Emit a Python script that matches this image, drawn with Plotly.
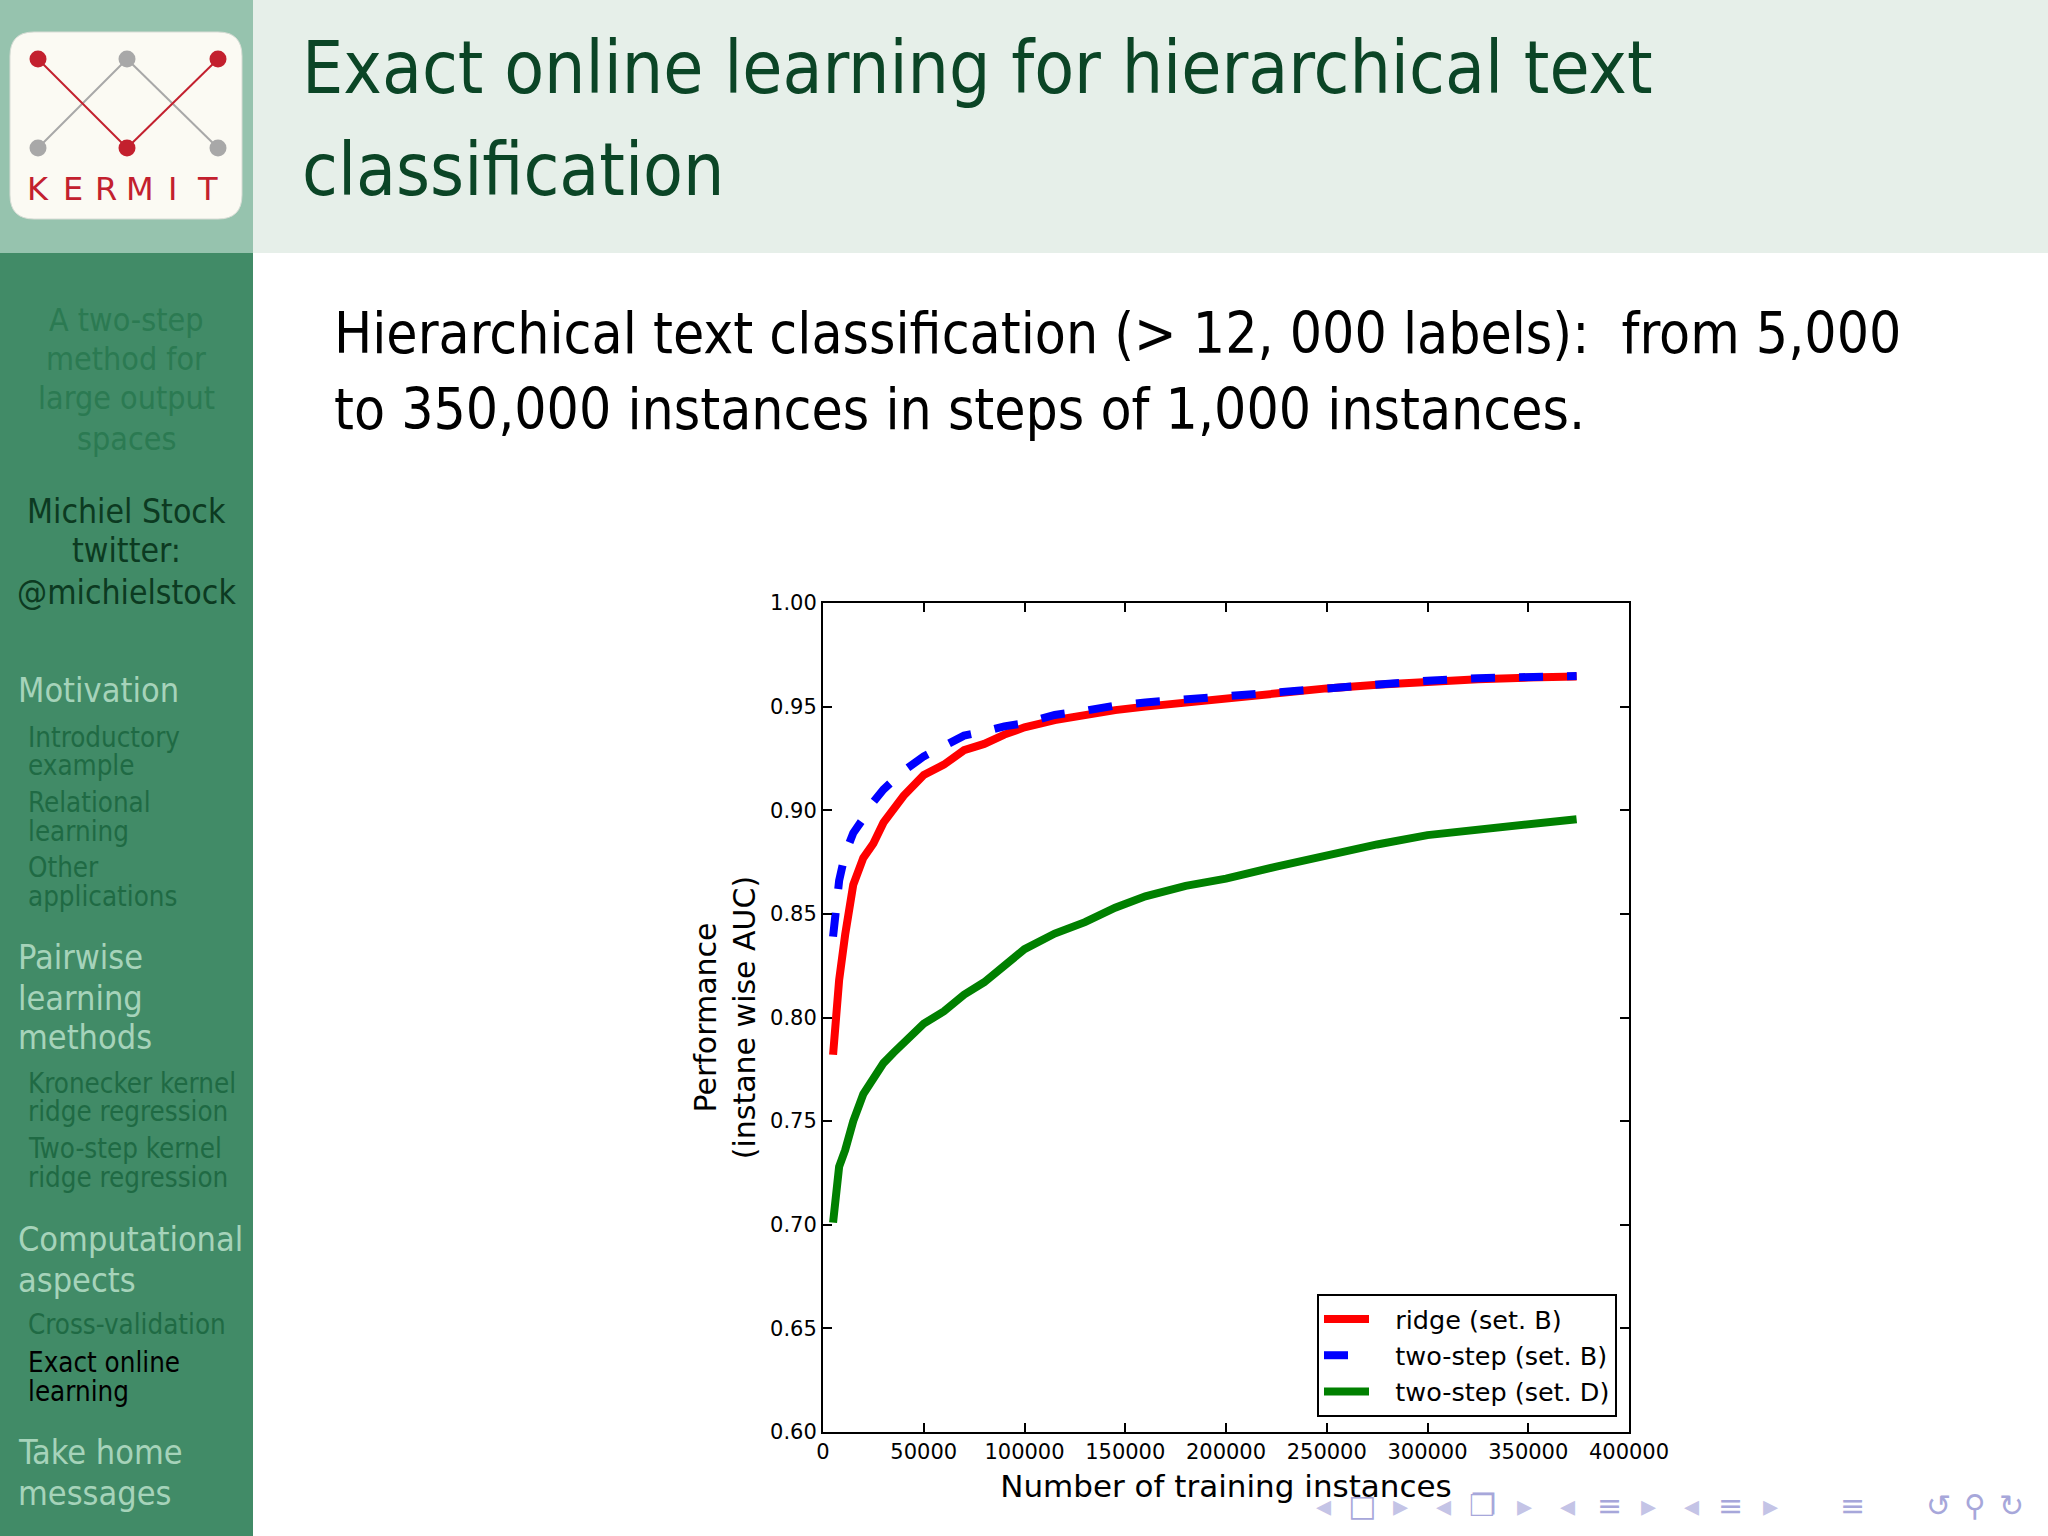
import plotly.graph_objects as go

W, H = 2048, 1536

# ---------------- data ----------------
instances = [5000, 8000, 11000, 15000, 20000, 25000, 30000, 35000, 40000, 50000,
             60000, 70000, 80000, 90000, 100000, 115000, 130000, 145000, 160000,
             180000, 200000, 225000, 250000, 275000, 300000, 325000, 350000, 374000]
ridge_B = [0.782, 0.818, 0.840, 0.864, 0.877, 0.884, 0.894, 0.901, 0.907, 0.917,
           0.922, 0.929, 0.932, 0.9365, 0.940, 0.9435, 0.946, 0.9483, 0.950,
           0.952, 0.9538, 0.9565, 0.9588, 0.9605, 0.962, 0.9632, 0.964, 0.9645]
twostep_B = [0.839, 0.866, 0.879, 0.889, 0.896, 0.904, 0.910, 0.915, 0.919, 0.926,
             0.931, 0.936, 0.938, 0.9405, 0.942, 0.946, 0.948, 0.9505, 0.952,
             0.9535, 0.955, 0.9575, 0.9596, 0.961, 0.9625, 0.9637, 0.9645, 0.9648]
twostep_D = [0.701, 0.728, 0.736, 0.750, 0.763, 0.770, 0.778, 0.783, 0.788, 0.797,
             0.803, 0.811, 0.817, 0.825, 0.833, 0.8405, 0.846, 0.853, 0.8585,
             0.8635, 0.867, 0.8728, 0.8783, 0.8835, 0.888, 0.8905, 0.8932, 0.8957]
series_names = ["ridge (set. B)", "two-step (set. B)", "two-step (set. D)"]
x_ticks = [0, 50000, 100000, 150000, 200000, 250000, 300000, 350000, 400000]
y_ticks = [0.60, 0.65, 0.70, 0.75, 0.80, 0.85, 0.90, 0.95, 1.00]

title_lines = ["Exact online learning for hierarchical text", "classification"]
body_lines = ["Hierarchical text classification (> 12, 000 labels):  from 5,000",
              "to 350,000 instances in steps of 1,000 instances."]

# ---------------- layout helpers ----------------
PL, PR, PT, PB = 823, 1629, 603, 1432   # plot area in pixels
NB = "\u00a0\u00a0\u2009"


def X(px):
    return px / W


def Y(py):
    return 1 - py / H


SLIDE_FONT = "DejaVu Sans Condensed, Lato, sans-serif"
CHART_FONT = "DejaVu Sans"

fig = go.Figure()

fig.add_trace(go.Scatter(x=instances, y=ridge_B, mode="lines", name=NB + series_names[0],
                         line=dict(color="#ff0000", width=8)))
fig.add_trace(go.Scatter(x=instances, y=twostep_B, mode="lines", name=NB + series_names[1],
                         line=dict(color="#0000ff", width=8, dash="24px,24px")))
fig.add_trace(go.Scatter(x=instances, y=twostep_D, mode="lines", name=NB + series_names[2],
                         line=dict(color="#008000", width=8)))

shapes = []
annotations = []

# backgrounds
shapes.append(dict(type="rect", xref="paper", yref="paper", x0=X(0), x1=X(253), y0=Y(253), y1=Y(0),
                   fillcolor="#96c3ae", line_width=0, layer="below"))
shapes.append(dict(type="rect", xref="paper", yref="paper", x0=X(0), x1=X(253), y0=Y(1536), y1=Y(253),
                   fillcolor="#418b67", line_width=0, layer="below"))
shapes.append(dict(type="rect", xref="paper", yref="paper", x0=X(253), x1=X(2048), y0=Y(253), y1=Y(0),
                   fillcolor="#e6efe9", line_width=0, layer="below"))

# logo rounded rectangle
lx0, lx1, ly0, ly1, r = 10, 242, 32, 219, 24


def P(px, py):
    return f"{X(px):.5f},{Y(py):.5f}"


path = (f"M {P(lx0 + r, ly0)} L {P(lx1 - r, ly0)} Q {P(lx1, ly0)} {P(lx1, ly0 + r)} "
        f"L {P(lx1, ly1 - r)} Q {P(lx1, ly1)} {P(lx1 - r, ly1)} "
        f"L {P(lx0 + r, ly1)} Q {P(lx0, ly1)} {P(lx0, ly1 - r)} "
        f"L {P(lx0, ly0 + r)} Q {P(lx0, ly0)} {P(lx0 + r, ly0)} Z")
shapes.append(dict(type="path", xref="paper", yref="paper", path=path,
                   fillcolor="#fbfaf3", line=dict(color="#d8ddd6", width=1), layer="below"))

RED, GRAY = "#c3202e", "#a8a8a8"
top_y, bot_y = 59, 148
xl, xm, xr = 38, 127, 218
for p0, p1 in [((xl, bot_y), (xm, top_y)), ((xm, top_y), (xr, bot_y))]:
    shapes.append(dict(type="line", xref="paper", yref="paper", x0=X(p0[0]), y0=Y(p0[1]),
                       x1=X(p1[0]), y1=Y(p1[1]), line=dict(color=GRAY, width=2)))
for p0, p1 in [((xl, top_y), (xm, bot_y)), ((xm, bot_y), (xr, top_y))]:
    shapes.append(dict(type="line", xref="paper", yref="paper", x0=X(p0[0]), y0=Y(p0[1]),
                       x1=X(p1[0]), y1=Y(p1[1]), line=dict(color=RED, width=2)))
for cx, cy, col in [(xl, top_y, RED), (xm, top_y, GRAY), (xr, top_y, RED),
                    (xl, bot_y, GRAY), (xm, bot_y, RED), (xr, bot_y, GRAY)]:
    rr = 8.5
    shapes.append(dict(type="circle", xref="paper", yref="paper", x0=X(cx - rr), x1=X(cx + rr),
                       y0=Y(cy + rr), y1=Y(cy - rr), fillcolor=col, line_width=0))
for ch, cx in zip("KERMIT", [38, 73, 106, 140, 172, 207]):
    annotations.append(dict(text=ch, x=X(cx), y=Y(189), xref="paper", yref="paper",
                            showarrow=False, xanchor="center", yanchor="middle",
                            font=dict(family="DejaVu Sans", size=32, color=RED)))


def txt(s, px, py, size, color, anchor="left", family=SLIDE_FONT):
    annotations.append(dict(text=s, x=X(px), y=Y(py), xref="paper", yref="paper",
                            showarrow=False, xanchor=anchor, yanchor="middle",
                            font=dict(family=family, size=size, color=color)))


# title
txt(title_lines[0], 300, 68, 72.6, "#0b4526")
txt(title_lines[1], 300, 170, 72.6, "#0b4526")
# body text
txt(body_lines[0], 332, 333, 56.5, "#000000")
txt(body_lines[1], 332, 410, 56.5, "#000000")

# sidebar
DIM = "#2b7a52"
for s, py in zip(["A two-step", "method for", "large output", "spaces"], [320, 359, 398, 439]):
    txt(s, 126, py, 32, DIM, anchor="center")
for s, py in zip(["Michiel Stock", "twitter:", "@michielstock"], [512, 551, 592]):
    txt(s, 126, py, 33.5, "#0c3a21", anchor="center")
LIGHT = "#a6d3ba"
SUB = "#1f6a44"
sections = [
    ("Motivation", 690, LIGHT, 34, 16),
    ("Introductory", 737, SUB, 27.5, 26), ("example", 765, SUB, 27.5, 26),
    ("Relational", 802, SUB, 27.5, 26), ("learning", 831, SUB, 27.5, 26),
    ("Other", 867, SUB, 27.5, 26), ("applications", 896, SUB, 27.5, 26),
    ("Pairwise", 957, LIGHT, 34, 16), ("learning", 998, LIGHT, 34, 16), ("methods", 1037, LIGHT, 34, 16),
    ("Kronecker kernel", 1083, SUB, 27.5, 26), ("ridge regression", 1111, SUB, 27.5, 26),
    ("Two-step kernel", 1148, SUB, 27.5, 26), ("ridge regression", 1177, SUB, 27.5, 26),
    ("Computational", 1239, LIGHT, 34, 16), ("aspects", 1280, LIGHT, 34, 16),
    ("Cross-validation", 1324, SUB, 27.5, 26),
    ("Exact online", 1362, "#000000", 27.5, 26), ("learning", 1391, "#000000", 27.5, 26),
    ("Take home", 1452, LIGHT, 34, 16), ("messages", 1493, LIGHT, 34, 16),
]
for s, py, col, size, px in sections:
    txt(s, px, py, size, col)

# navigation symbols (beamer)
NAV = "#c4c4e6"
NAV2 = "#a7a7da"
nav = [("◂", 1323, NAV), ("□", 1362, NAV2), ("▸", 1400, NAV),
       ("◂", 1443, NAV), ("❐", 1482, NAV2), ("▸", 1524, NAV),
       ("◂", 1567, NAV), ("≡", 1609, NAV2), ("▸", 1648, NAV),
       ("◂", 1691, NAV), ("≡", 1730, NAV2), ("▸", 1770, NAV),
       ("≡", 1852, NAV2), ("↺", 1938, NAV2), ("⚲", 1975, NAV2), ("↻", 2011, NAV2)]
for s, px, col in nav:
    txt(s, px, 1505, 30, col, anchor="center", family="DejaVu Sans")

fig.update_layout(
    width=W, height=H, autosize=False,
    margin=dict(l=0, r=0, t=0, b=0, pad=0, autoexpand=False),
    paper_bgcolor="#ffffff", plot_bgcolor="#ffffff",
    font=dict(family=CHART_FONT, color="#000000"),
    shapes=shapes, annotations=annotations,
    showlegend=True,
    legend=dict(x=X(1617), y=Y(1417), xanchor="right", yanchor="bottom",
                bgcolor="#ffffff", bordercolor="#000000", borderwidth=2,
                font=dict(family=CHART_FONT, size=25.5, color="#000000"),
                itemwidth=45, tracegroupgap=0),
    xaxis=dict(domain=[X(PL), X(PR)], range=[0, 400000], tickvals=x_ticks,
               ticktext=[str(v) for v in x_ticks], ticks="inside", ticklen=9, tickwidth=1.5,
               tickcolor="#000000", showline=True, linecolor="#000000", linewidth=2,
               mirror="ticks", showgrid=False, zeroline=False, automargin=False,
               tickfont=dict(family=CHART_FONT, size=21),
               title=dict(text="Number of training instances", standoff=12,
                          font=dict(family=CHART_FONT, size=31))),
    yaxis=dict(domain=[Y(PB), Y(PT)], range=[0.60, 1.00], tickvals=y_ticks,
               ticktext=[f"{v:.2f}" for v in y_ticks], ticks="inside", ticklen=9, tickwidth=1.5,
               tickcolor="#000000", showline=True, linecolor="#000000", linewidth=2,
               mirror="ticks", showgrid=False, zeroline=False, automargin=False,
               tickfont=dict(family=CHART_FONT, size=21),
               title=dict(text="Performance<br>(instane wise AUC)", standoff=6,
                          font=dict(family=CHART_FONT, size=30))),
)

fig.write_html("out.html",
               config={"displayModeBar": False, "responsive": False},
               post_script="document.body.style.margin='0';document.body.style.overflow='hidden';")
